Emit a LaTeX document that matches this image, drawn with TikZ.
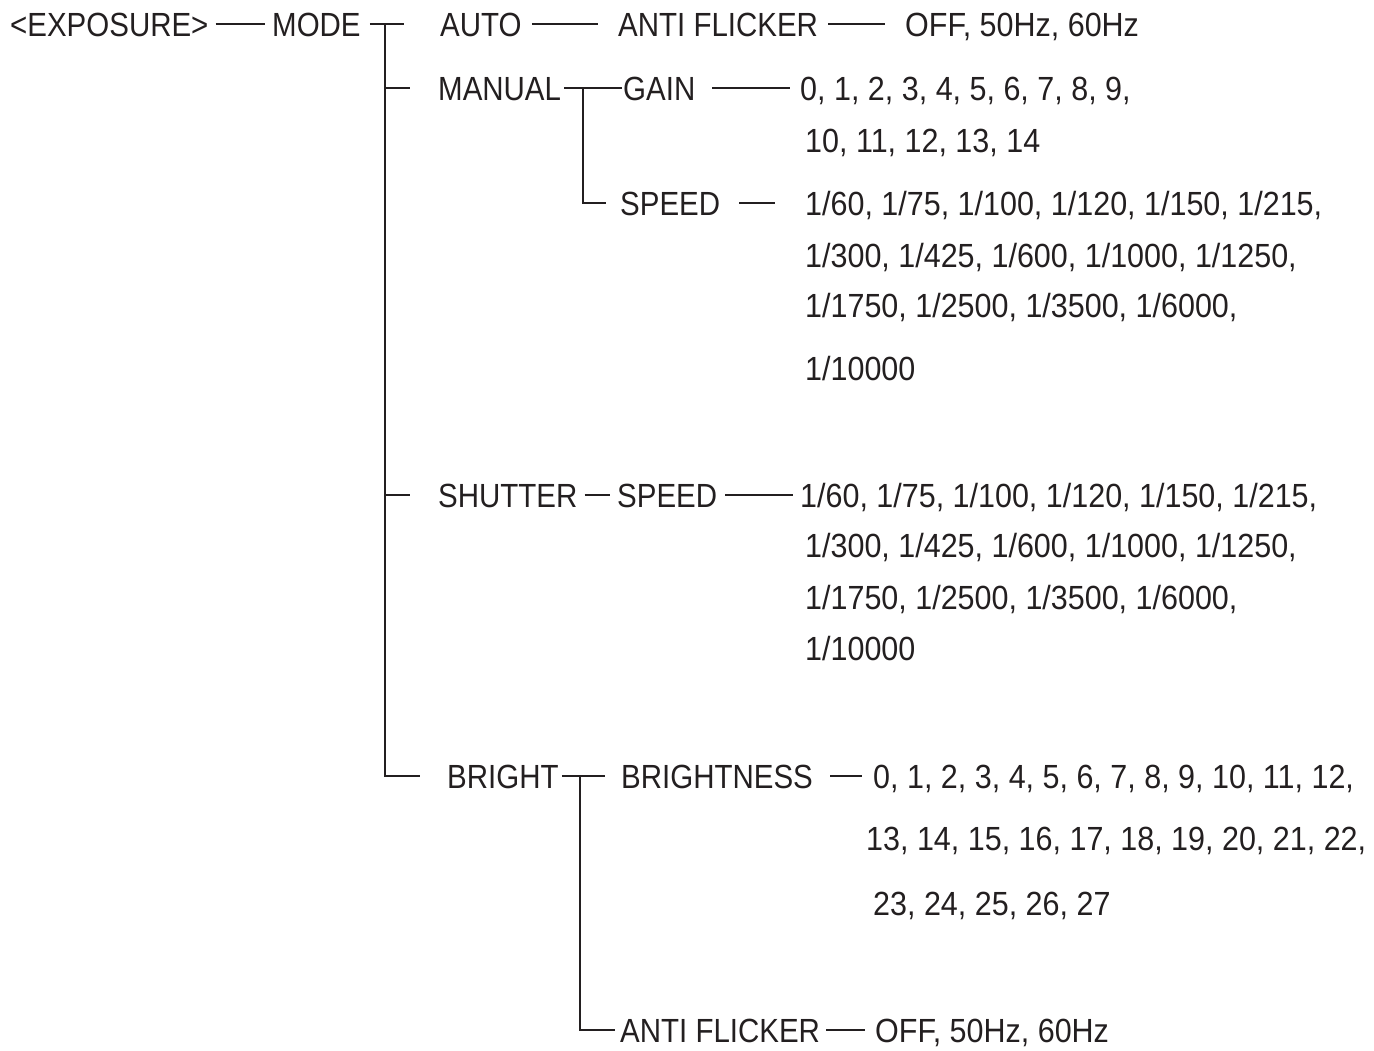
\documentclass[tikz,border=0pt]{standalone}
\usepackage{fontspec}
\setmainfont{Liberation Sans}[FakeStretch=0.91]
\newfontfamily\namefont{Liberation Sans}[FakeStretch=0.88]
\definecolor{ink}{HTML}{231F20}

\tikzset{
  val/.style={anchor=west, inner sep=0pt, text height=24pt, text depth=0pt,
    font=\fontsize{33.5}{40}\selectfont, text=ink},
  lbl/.style={val, font=\namefont\fontsize{33.5}{40}\selectfont},
  wire/.style={draw=ink, line width=2pt}
}

\begin{document}
\begin{tikzpicture}[x=1pt, y=-1pt]
    \useasboundingbox (0,0) rectangle (1374,1050);

    % top row
    \node[lbl] (expo) at (10,24) {\textless EXPOSURE\textgreater};
    \node[lbl] (mode) at (272,24) {MODE};
    \node[lbl] (auto) at (440,24) {AUTO};
    \node[lbl] (autoflk) at (618,24) {ANTI FLICKER};
    \node[val] (autoflkval) at (905,24) {OFF, 50Hz, 60Hz};

    % manual
    \node[lbl] (manual) at (438,88) {MANUAL};
    \node[lbl] (gain) at (623,88) {GAIN};
    \node[val] (gainval) at (800,88) {0, 1, 2, 3, 4, 5, 6, 7, 8, 9,};
    \node[val] (gainval2) at (805,140) {10, 11, 12, 13, 14};
    \node[lbl] (mspeed) at (620,203) {SPEED};
    \node[val] (mspeedval) at (805,203) {1/60, 1/75, 1/100, 1/120, 1/150, 1/215,};
    \node[val] (mspeedval2) at (805,255) {1/300, 1/425, 1/600, 1/1000, 1/1250,};
    \node[val] (mspeedval3) at (805,305) {1/1750, 1/2500, 1/3500, 1/6000,};
    \node[val] (mspeedval4) at (805,368) {1/10000};

    % shutter
    \node[lbl] (shutter) at (438,495) {SHUTTER};
    \node[lbl] (sspeed) at (617,495) {SPEED};
    \node[val] (sspeedval) at (800,495) {1/60, 1/75, 1/100, 1/120, 1/150, 1/215,};
    \node[val] (sspeedval2) at (805,545) {1/300, 1/425, 1/600, 1/1000, 1/1250,};
    \node[val] (sspeedval3) at (805,597) {1/1750, 1/2500, 1/3500, 1/6000,};
    \node[val] (sspeedval4) at (805,648) {1/10000};

    % bright
    \node[lbl] (bright) at (447,776) {BRIGHT};
    \node[lbl] (brightness) at (621,776) {BRIGHTNESS};
    \node[val] (brightval) at (873,776) {0, 1, 2, 3, 4, 5, 6, 7, 8, 9, 10, 11, 12,};
    \node[val] (brightval2) at (866,838) {13, 14, 15, 16, 17, 18, 19, 20, 21, 22,};
    \node[val] (brightval3) at (873,903) {23, 24, 25, 26, 27};
    \node[lbl] (bflk) at (620,1030) {ANTI FLICKER};
    \node[val] (bflkval) at (875,1030) {OFF, 50Hz, 60Hz};

    % junctions
    \coordinate (trunk) at (385,24);
    \coordinate (mj) at (583,88);
    \coordinate (bj) at (580,776);

    % connectors
    \draw[wire] ([xshift=7]expo.east) -- ([xshift=-7]mode.west);
    \draw[wire] ([xshift=9]mode.east) -- ([xshift=-36]auto.west);
    \draw[wire] (trunk) |- ([xshift=-27]bright.west);
    \draw[wire] (trunk |- manual) -- ([xshift=-28]manual.west);
    \draw[wire] (trunk |- shutter) -- ([xshift=-28]shutter.west);
    \draw[wire] ([xshift=10]auto.east) -- ([xshift=-20]autoflk.west);
    \draw[wire] ([xshift=10]autoflk.east) -- ([xshift=-20]autoflkval.west);

    \draw[wire] ([xshift=3]manual.east) -- ([xshift=-1]gain.west);
    \draw[wire] (mj) |- ([xshift=-14]mspeed.west);
    \draw[wire] ([xshift=17]gain.east) -- ([xshift=-10]gainval.west);
    \draw[wire] ([xshift=19]mspeed.east) -- ([xshift=-30]mspeedval.west);

    \draw[wire] ([xshift=7]shutter.east) -- ([xshift=-7]sspeed.west);
    \draw[wire] ([xshift=8]sspeed.east) -- ([xshift=-7]sspeedval.west);

    \draw[wire] ([xshift=3]bright.east) -- ([xshift=-16]brightness.west);
    \draw[wire] (bj) |- ([xshift=-5]bflk.west);
    \draw[wire] ([xshift=17]brightness.east) -- ([xshift=-11]brightval.west);
    \draw[wire] ([xshift=6]bflk.east) -- ([xshift=-10]bflkval.west);
\end{tikzpicture}
\end{document}
